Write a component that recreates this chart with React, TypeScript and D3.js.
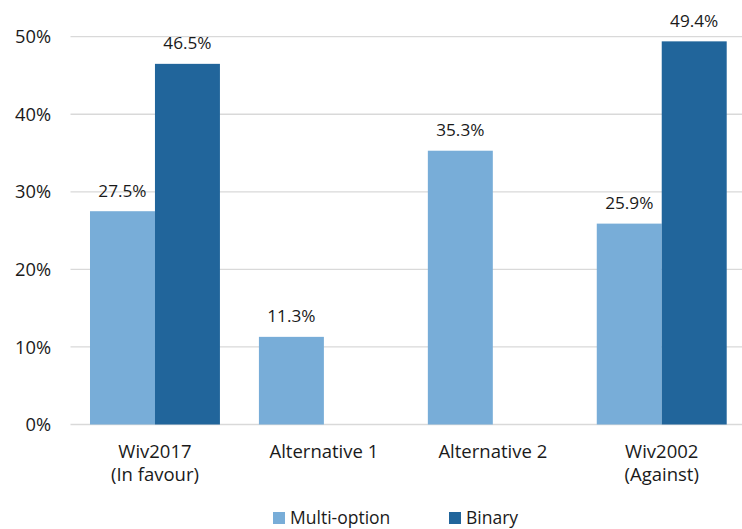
import React from "react";
import * as d3 from "d3";

const categories: string[][] = [
  ["Wiv2017", "(In favour)"],
  ["Alternative 1"],
  ["Alternative 2"],
  ["Wiv2002", "(Against)"],
];
const seriesNames = ["Multi-option", "Binary"];
const multiOption: (number | null)[] = [27.5, 11.3, 35.3, 25.9];
const binary: (number | null)[] = [46.5, null, null, 49.4];
const yTicks = [0, 10, 20, 30, 40, 50];

const colors = ["#78ADD8", "#21659B"];
const font = "'Open Sans', sans-serif";
const textColor = "#1a1a1a";

export default function App() {
  const width = 742;
  const height = 529;
  const left = 70.5;
  const right = 746.2;
  const y0 = 424.5;
  const y50 = 36.7;

  const x = d3
    .scaleBand<number>()
    .domain(categories.map((_, i) => i))
    .range([left, right])
    .paddingInner(0.2308)
    .paddingOuter(0.1154);
  const inner = d3
    .scaleBand<number>()
    .domain([0, 1])
    .range([0, x.bandwidth()]);
  const y = d3.scaleLinear().domain([0, 50]).range([y0, y50]);

  const series = [multiOption, binary];

  return (
    <svg
      width={width}
      height={height}
      style={{ position: "absolute", left: 0, top: 0, background: "#fff" }}
      fontFamily={font}
    >
      {yTicks.map((t) => (
        <g key={t}>
          <line
            x1={left}
            x2={width}
            y1={y(t)}
            y2={y(t)}
            stroke="#D9D9D9"
            strokeWidth={1.3}
          />
          <text
            x={51}
            y={y(t)}
            dy="0.36em"
            textAnchor="end"
            fontSize={18.3}
            fill={textColor}
          >
            {t}%
          </text>
        </g>
      ))}
      {series.map((vals, si) =>
        vals.map((v, ci) =>
          v == null ? null : (
            <g key={`${si}-${ci}`}>
              <rect
                x={(x(ci) ?? 0) + (inner(si) ?? 0)}
                y={y(v)}
                width={inner.bandwidth()}
                height={y0 - y(v)}
                fill={colors[si]}
              />
              <text
                x={(x(ci) ?? 0) + (inner(si) ?? 0) + inner.bandwidth() / 2}
                y={y(v) - 14.5}
                textAnchor="middle"
                fontSize={17.2}
                fill={textColor}
              >
                {v.toFixed(1)}%
              </text>
            </g>
          )
        )
      )}
      {categories.map((lines, ci) => (
        <text
          key={ci}
          x={(x(ci) ?? 0) + x.bandwidth() / 2}
          y={458}
          textAnchor="middle"
          fontSize={18.5}
          fill={textColor}
        >
          {lines.map((l, li) => (
            <tspan key={li} x={(x(ci) ?? 0) + x.bandwidth() / 2} dy={li === 0 ? 0 : 23}>
              {l}
            </tspan>
          ))}
        </text>
      ))}
      {seriesNames.map((name, si) => {
        const lx = si === 0 ? 273 : 449;
        return (
          <g key={name}>
            <rect x={lx} y={512} width={12} height={12} fill={colors[si]} />
            <text x={lx + 17} y={523.5} fontSize={17.5} fill={textColor}>
              {name}
            </text>
          </g>
        );
      })}
    </svg>
  );
}
